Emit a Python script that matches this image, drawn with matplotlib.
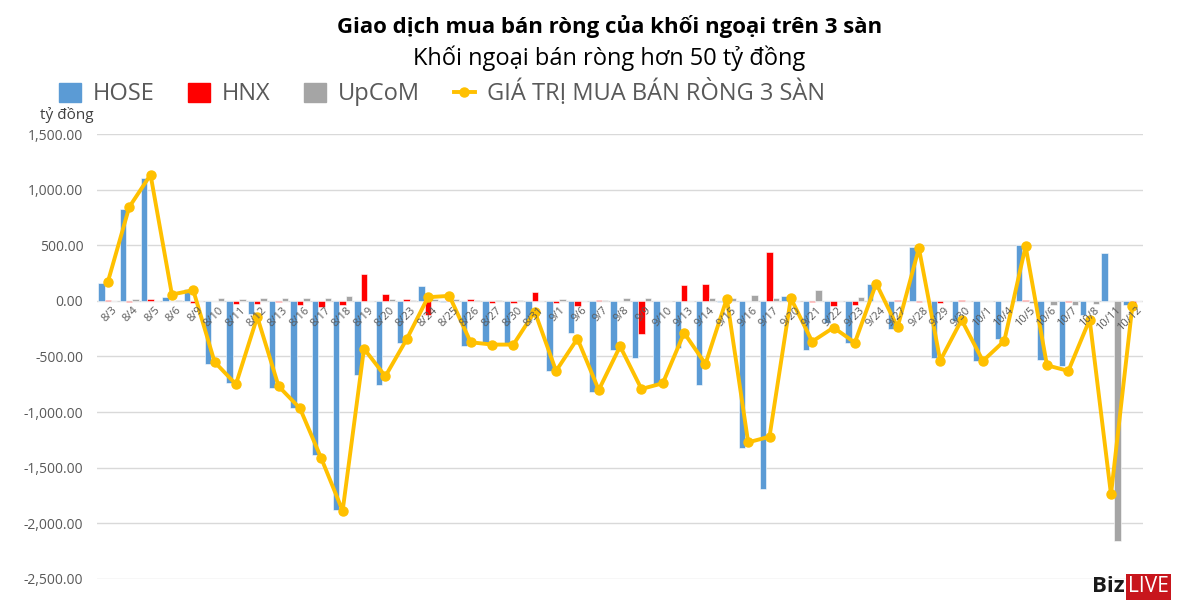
import numpy as np
import matplotlib.pyplot as plt
from matplotlib.ticker import FuncFormatter
from matplotlib.lines import Line2D
from matplotlib.patches import Patch

# Net foreign buy/sell by exchange (tỷ đồng)
dates = ['8/3', '8/4', '8/5', '8/6', '8/9', '8/10', '8/11', '8/12', '8/13', '8/16',
         '8/17', '8/18', '8/19', '8/20', '8/23', '8/24', '8/25', '8/26', '8/27', '8/30',
         '8/31', '9/1', '9/6', '9/7', '9/8', '9/9', '9/10', '9/13', '9/14', '9/15',
         '9/16', '9/17', '9/20', '9/21', '9/22', '9/23', '9/24', '9/27', '9/28', '9/29',
         '9/30', '10/1', '10/4', '10/5', '10/6', '10/7', '10/8', '10/11', '10/12']
hose = [162, 828, 1101, 36, 111, -570, -738, -120, -780, -960,
        -1386, -1884, -666, -759, -381, 132, -12, -402, -381, -381,
        -180, -630, -291, -822, -444, -516, -756, -426, -756, -12,
        -1326, -1689, 48, -444, -195, -375, 156, -252, 480, -516,
        -180, -537, -342, 501, -531, -582, -129, 426, -39]
hnx = [12, -12, 21, -3, -15, -3, -24, -24, -12, -39,
       -54, -39, 246, 66, 21, -123, 18, 15, -15, -15,
       84, -15, -48, 12, -3, -300, 3, 141, 156, 0,
       -3, 441, -27, -12, -48, -36, 0, 9, -12, -21,
       12, 3, 3, 12, 3, -12, 0, 3, -18]
upcom = [0, 18, 3, 5, 0, 24, 15, 24, 24, 30,
         24, 42, -3, 15, 12, 18, 15, 9, 12, 12,
         0, 15, 0, 9, 30, 24, 0, 0, 30, 24,
         54, 30, 0, 96, 0, 36, 0, 0, 0, 0,
         0, 0, 0, -18, -33, -39, -30, -2163, 0]
total = [171, 843, 1134, 57, 96, -549, -750, -144, -768, -966,
         -1416, -1887, -429, -678, -345, 33, 45, -372, -393, -393,
         -96, -630, -339, -801, -408, -792, -741, -288, -567, 21,
         -1272, -1221, 24, -366, -240, -375, 156, -237, 474, -537,
         -171, -540, -360, 492, -579, -630, -168, -1740, -48]

plt.rcParams['font.family'] = ['Open Sans', 'DejaVu Sans']

fig = plt.figure(figsize=(12, 6.12), dpi=100)
ax = fig.add_axes([0.081, 0.054, 0.8715, 0.727])

x = np.arange(len(dates))
w = 0.3
ax.bar(x - w, hose, w, color='#5B9BD5', edgecolor='white', linewidth=0.4, zorder=2)
ax.bar(x, hnx, w, color='#FF0000', edgecolor='white', linewidth=0.4, zorder=2)
ax.bar(x + w, upcom, w, color='#A5A5A5', edgecolor='white', linewidth=0.4, zorder=2)
ax.plot(x, total, color='#FFC000', lw=2.8, marker='o', ms=6.5, zorder=3)

ax.set_xlim(-0.5, len(dates) - 0.5)
ax.set_ylim(-2500, 1500)
ax.set_yticks(np.arange(-2500, 1501, 500))
ax.yaxis.set_major_formatter(FuncFormatter(lambda v, p: f'{v:,.2f}'))
ax.grid(axis='y', color='#D9D9D9', lw=1, zorder=0)
for s in ax.spines.values():
    s.set_visible(False)
ax.tick_params(axis='y', length=0, labelsize=10, labelcolor='#595959', pad=10)
ax.set_xticks([])

# category labels sit on the zero line, like Excel
for i, d in enumerate(dates):
    ax.annotate(d, (i, 0), xytext=(4, -4), textcoords='offset pixels',
                rotation=45, rotation_mode='anchor', ha='right', va='top',
                fontsize=8, color='#595959')

fig.text(0.508, 1 - 27 / 612, 'Giao dịch mua bán ròng của khối ngoại trên 3 sàn',
         ha='center', va='center', fontsize=16, fontweight='bold', color='black')
fig.text(0.508, 1 - 58 / 612, 'Khối ngoại bán ròng hơn 50 tỷ đồng',
         ha='center', va='center', fontsize=17, color='black')
fig.text(40 / 1200, 1 - 115 / 612, 'tỷ đồng', ha='left', va='center',
         fontsize=11, color='#404040')

handles = [Patch(color='#5B9BD5'), Patch(color='#FF0000'), Patch(color='#A5A5A5'),
           Line2D([], [], color='#FFC000', lw=2.8, marker='o', ms=6.5)]
labels = ['HOSE', 'HNX', 'UpCoM', 'GIÁ TRỊ MUA BÁN RÒNG 3 SÀN']
fig.legend(handles, labels, ncol=4, loc='center left',
           bbox_to_anchor=(50 / 1200, 1 - 93 / 612), frameon=False,
           fontsize=17, labelcolor='#595959', handlelength=0.9, handleheight=0.9,
           handletextpad=0.5, columnspacing=1.45, borderaxespad=0)

# BizLIVE logo
fig.text(1092 / 1200, 1 - 587 / 612, 'Biz', ha='left', va='center',
         fontsize=16, fontweight='bold', color='#1a1a1a')
fig.text(1128 / 1200, 1 - 587 / 612, 'LIVE', ha='left', va='center',
         fontsize=15, color='white',
         bbox=dict(boxstyle='square,pad=0.1', fc='#C8161D', ec='none'))

fig.savefig('out.png', dpi=100)
